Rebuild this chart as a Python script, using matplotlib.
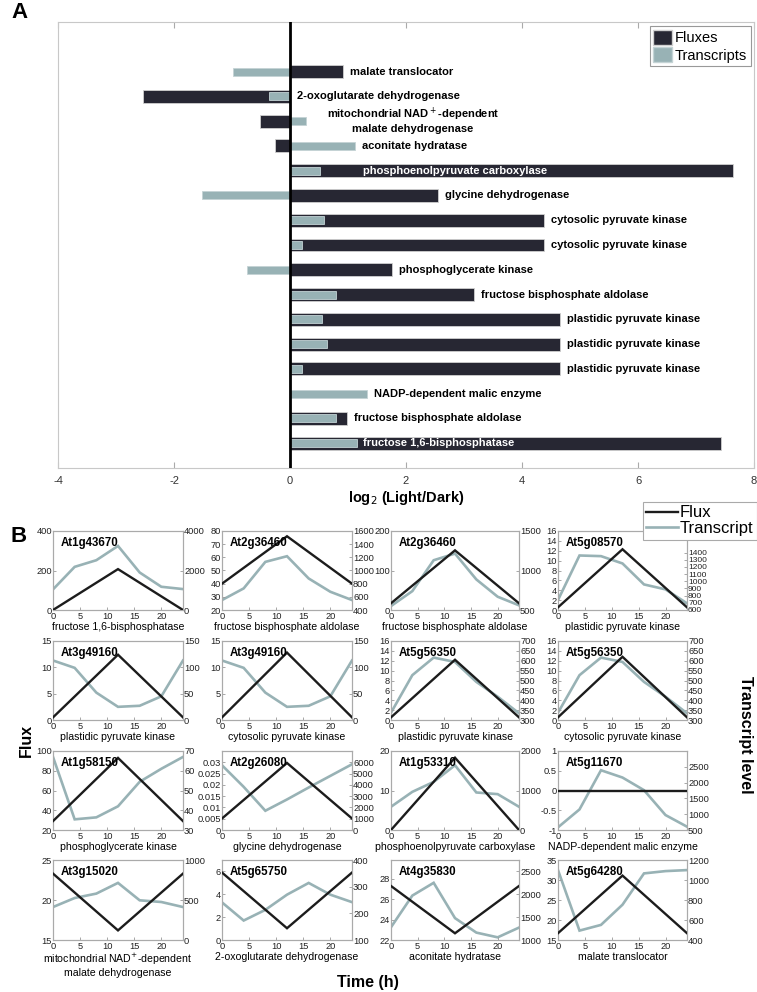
import matplotlib
matplotlib.use("Agg")
import matplotlib.pyplot as plt
from matplotlib.lines import Line2D
from matplotlib.patches import Patch
import numpy as np

W, H = 757, 992
DPI = 100

# ---------------- Panel A data ----------------
enzymes = ["malate translocator", "2-oxoglutarate dehydrogenase",
           "mitochondrial NAD$^+$-dependent\nmalate dehydrogenase",
           "aconitate hydratase", "phosphoenolpyruvate carboxylase",
           "glycine dehydrogenase", "cytosolic pyruvate kinase",
           "cytosolic pyruvate kinase", "phosphoglycerate kinase",
           "fructose bisphosphate aldolase", "plastidic pyruvate kinase",
           "plastidic pyruvate kinase", "plastidic pyruvate kinase",
           "NADP-dependent malic enzyme", "fructose bisphosphate aldolase",
           "fructose 1,6-bisphosphatase"]
flux_log2 = [0.91, -2.53, -0.52, -0.26, 7.63, 2.56, 4.38, 4.38, 1.76, 3.18,
             4.65, 4.65, 4.65, 0.0, 0.98, 7.43]
trans_log2 = [-0.98, -0.36, 0.28, 1.12, 0.51, -1.51, 0.58, 0.20, -0.74, 0.79,
              0.56, 0.64, 0.20, 1.33, 0.79, 1.15]
xticks_A = [-4, -2, 0, 2, 4, 6, 8]

# ---------------- Panel B data ----------------
genes = ["At1g43670", "At2g36460", "At2g36460", "At5g08570",
         "At3g49160", "At3g49160", "At5g56350", "At5g56350",
         "At1g58150", "At2g26080", "At1g53310", "At5g11670",
         "At3g15020", "At5g65750", "At4g35830", "At5g64280"]
functions = ["fructose 1,6-bisphosphatase", "fructose bisphosphate aldolase",
             "fructose bisphosphate aldolase", "plastidic pyruvate kinase",
             "plastidic pyruvate kinase", "cytosolic pyruvate kinase",
             "plastidic pyruvate kinase", "cytosolic pyruvate kinase",
             "phosphoglycerate kinase", "glycine dehydrogenase",
             "phosphoenolpyruvate carboxylase", "NADP-dependent malic enzyme",
             "mitochondrial NAD$^{+}$-dependent\nmalate dehydrogenase",
             "2-oxoglutarate dehydrogenase", "aconitate hydratase",
             "malate translocator"]
flux_time = [0, 12, 24]
flux_vals = [[0, 207, 0], [40, 76, 40], [17, 151, 17], [0.54, 12.3, 0.54],
             [0.5, 12.4, 0.5], [0.5, 12.8, 0.5], [0.54, 12.2, 0.54], [0.54, 12.8, 0.54],
             [29, 93, 29], [0.0051, 0.0297, 0.0051], [0, 18.3, 0], [0, 0, 0],
             [23.3, 16.2, 23.3], [5.9, 1.03, 5.9], [27.3, 22.66, 27.3], [16.7, 31.1, 16.7]]
trans_time = [0, 4, 8, 12, 16, 20, 24]
trans_vals = [[1042, 2185, 2521, 3244, 1899, 1176, 1059],
              [551, 728, 1131, 1217, 879, 677, 551],
              [550, 739, 1130, 1214, 887, 668, 559],
              [739, 1359, 1350, 1248, 956, 887, 693],
              [113, 99, 52, 25, 27, 45, 113],
              [113, 99, 52, 25, 27, 45, 113],
              [337, 527, 616, 594, 493, 418, 334],
              [337, 527, 616, 594, 493, 418, 334],
              [67, 35.4, 36.4, 42, 54.4, 61, 67],
              [5735, 3824, 1706, 2706, 3765, 4794, 5824],
              [588, 966, 1218, 1639, 950, 908, 588],
              [584, 1151, 2391, 2160, 1760, 973, 605],
              [412, 525, 580, 714, 496, 475, 412],
              [241, 173, 213, 270, 314, 270, 242],
              [1278, 1966, 2244, 1476, 1161, 1058, 1270],
              [1099, 494, 551, 753, 1066, 1089, 1099]]
left_lims = [(0, 400), (20, 80), (0, 200), (0, 16), (0, 15), (0, 15), (0, 16), (0, 16),
             (20, 100), (0, 0.035), (0, 20), (-1, 1), (15, 25), (0, 7), (22, 29.85), (15, 35)]
left_ticks = [[0, 200, 400], list(range(20, 81, 10)), [0, 100, 200], list(range(0, 17, 2)),
              [0, 5, 10, 15], [0, 5, 10, 15], list(range(0, 17, 2)), list(range(0, 17, 2)),
              [20, 40, 60, 80, 100], [0, 0.005, 0.01, 0.015, 0.02, 0.025, 0.03], [0, 10, 20],
              [-1, -0.5, 0, 0.5, 1], [15, 20, 25], [0, 2, 4, 6], [22, 24, 26, 28],
              [15, 20, 25, 30, 35]]
right_lims = [(0, 4000), (400, 1600), (500, 1500), (600, 1700), (0, 150), (0, 150),
              (300, 700), (300, 700), (30, 70), (0, 7000), (0, 2000), (500, 3000),
              (0, 1000), (100, 400), (1000, 2740), (400, 1200)]
right_ticks = [[0, 2000, 4000], list(range(400, 1601, 200)), [500, 1000, 1500],
               list(range(600, 1401, 100)), [0, 50, 100, 150], [0, 50, 100, 150],
               list(range(300, 701, 50)), list(range(300, 701, 50)), [30, 40, 50, 60, 70],
               list(range(0, 6001, 1000)), [0, 1000, 2000], [500, 1000, 1500, 2000, 2500],
               [0, 500, 1000], [100, 200, 300, 400], [1000, 1500, 2000, 2500],
               [400, 600, 800, 1000, 1200]]

FLUX_C = "#1c1c1c"
TRANS_C = "#98b2b5"
BAR_DARK = "#272733"
NARROW = ["Liberation Sans Narrow", "Liberation Sans", "DejaVu Sans"]
ARIAL = ["Liberation Sans", "DejaVu Sans"]

fig = plt.figure(figsize=(W / DPI, H / DPI), dpi=DPI)


def add_px(l, t, r, b):
    return fig.add_axes([l / W, 1 - b / H, (r - l) / W, (b - t) / H])


# ---------------- Panel A ----------------
axA = add_px(58, 22, 754, 468)
ypos = np.arange(len(enzymes))[::-1]
axA.barh(ypos, flux_log2, height=0.52, color=BAR_DARK, edgecolor="#d0d0d0",
         linewidth=0.6, zorder=2)
axA.barh(ypos, trans_log2, height=0.32, color=TRANS_C, edgecolor="#c4d3d5",
         linewidth=0.6, zorder=3)
axA.axvline(0, color="black", lw=2, zorder=4)
axA.set_xlim(-4, 8)
axA.set_ylim(-1, 17)
axA.set_yticks([])
axA.set_xticks(xticks_A)
axA.set_xticklabels([str(v) for v in xticks_A], family=NARROW, fontsize=8, color="#333333")
axA.tick_params(axis="x", direction="in", length=4, color="#aaaaaa", top=True, pad=6)
for s in axA.spines.values():
    s.set_color("#c8c8c8")
    s.set_linewidth(0.8)
axA.set_xlabel("log$_2$ (Light/Dark)", family=NARROW, fontsize=10.5, fontweight="bold",
               labelpad=2)

LAB_FS = 8
for i, (name, f, t) in enumerate(zip(enzymes, flux_log2, trans_log2)):
    y = ypos[i]
    if name.startswith("mitochondrial"):
        axA.text(2.12, y + 0.05, name, ha="center", va="center", family=NARROW,
                 fontsize=LAB_FS, fontweight="bold", linespacing=1.1)
    elif f > 7:
        axA.text(1.26, y, name, ha="left", va="center", family=NARROW,
                 fontsize=LAB_FS, fontweight="bold", color="white", zorder=5)
    else:
        x = max(f, t, 0) + 0.12
        axA.text(x, y, name, ha="left", va="center", family=NARROW,
                 fontsize=LAB_FS, fontweight="bold", zorder=5)

legA = axA.legend(handles=[Patch(facecolor=BAR_DARK, edgecolor="#d0d0d0", label="Fluxes"),
                           Patch(facecolor=TRANS_C, edgecolor="#c4d3d5", label="Transcripts")],
                  loc="upper right", bbox_to_anchor=(751 / W, 1 - 26 / H),
                  bbox_transform=fig.transFigure, borderaxespad=0,
                  prop={"family": NARROW, "size": 10.5}, handlelength=1.3,
                  handleheight=1.2, handletextpad=0.2, borderpad=0.25,
                  labelspacing=0.15, fancybox=False, edgecolor="#999999", framealpha=1)
legA.get_frame().set_linewidth(0.8)

fig.text(11 / W, 1 - 12 / H, "A", fontsize=16, fontweight="bold", family=ARIAL,
         ha="left", va="center")
fig.text(10 / W, 1 - 537 / H, "B", fontsize=16, fontweight="bold", family=ARIAL,
         ha="left", va="center")

# ---------------- Panel B ----------------
cols = [(53, 183), (222, 352), (391, 519), (558, 687)]
rows = [(531, 610), (641, 720), (751, 830), (860, 940)]
TICK_FS = 6.7


def fmt(v):
    return "%g" % v


for k in range(16):
    r, c = divmod(k, 4)
    l, rr = cols[c]
    t, b = rows[r]
    ax = add_px(l, t, rr, b)
    ax2 = ax.twinx()
    ax2.plot(trans_time, trans_vals[k], color=TRANS_C, lw=1.9, zorder=2,
             solid_joinstyle="miter")
    ax.plot(flux_time, flux_vals[k], color=FLUX_C, lw=1.7, zorder=3,
            solid_joinstyle="miter")
    ax.set_zorder(ax2.get_zorder() + 1)
    ax.patch.set_visible(False)
    ax.set_xlim(0, 24)
    ax.set_ylim(*left_lims[k])
    ax2.set_ylim(*right_lims[k])
    ax.set_xticks([0, 5, 10, 15, 20])
    ax.set_yticks(left_ticks[k])
    ax.set_yticklabels([fmt(v) for v in left_ticks[k]])
    ax2.set_yticks(right_ticks[k])
    ax2.set_yticklabels([fmt(v) for v in right_ticks[k]])
    rt = right_ticks[k]
    rlo, rhi = right_lims[k]
    spacing_px = (b - t) * (rt[1] - rt[0]) / (rhi - rlo)
    for a in (ax, ax2):
        a.tick_params(direction="in", length=2, width=0.6, color="#999999",
                      labelsize=TICK_FS, pad=0.8, labelcolor="#222222")
        for s in a.spines.values():
            s.set_color("#aaaaaa")
            s.set_linewidth(0.8)
        for lab in a.get_yticklabels() + a.get_xticklabels():
            lab.set_family(ARIAL)
    ax.tick_params(axis="x", pad=1.5)
    if spacing_px < 8:
        ax2.tick_params(axis="y", labelsize=6.0)
    ax.set_xlabel(functions[k], family=ARIAL, fontsize=7.6, labelpad=0.5,
                  linespacing=1.15)
    ax.text(0.06, 0.93, genes[k], transform=ax.transAxes, ha="left", va="top",
            family=ARIAL, fontsize=8.3, fontweight="bold", zorder=6)

fig.text(26 / W, 1 - 740 / H, "Flux", rotation=90, ha="center", va="center",
         family=ARIAL, fontsize=11.5, fontweight="bold")
fig.text(745 / W, 1 - 735 / H, "Transcript level", rotation=-90, ha="center",
         va="center", family=ARIAL, fontsize=11.5, fontweight="bold")
fig.text(368 / W, 1 - 983 / H, "Time (h)", ha="center", va="center",
         family=ARIAL, fontsize=11.5, fontweight="bold")

legB = fig.legend(handles=[Line2D([], [], color=FLUX_C, lw=1.7, label="Flux"),
                           Line2D([], [], color=TRANS_C, lw=1.9, label="Transcript")],
                  loc="upper right", bbox_to_anchor=(757 / W, 1 - 502 / H),
                  bbox_transform=fig.transFigure, borderaxespad=0,
                  prop={"family": ARIAL, "size": 12}, handlelength=1.9,
                  handletextpad=0.15, borderpad=0.2, labelspacing=0.05,
                  fancybox=False, edgecolor="#aaaaaa", framealpha=1)
legB.get_frame().set_linewidth(0.8)

fig.savefig("out.png", dpi=DPI)
